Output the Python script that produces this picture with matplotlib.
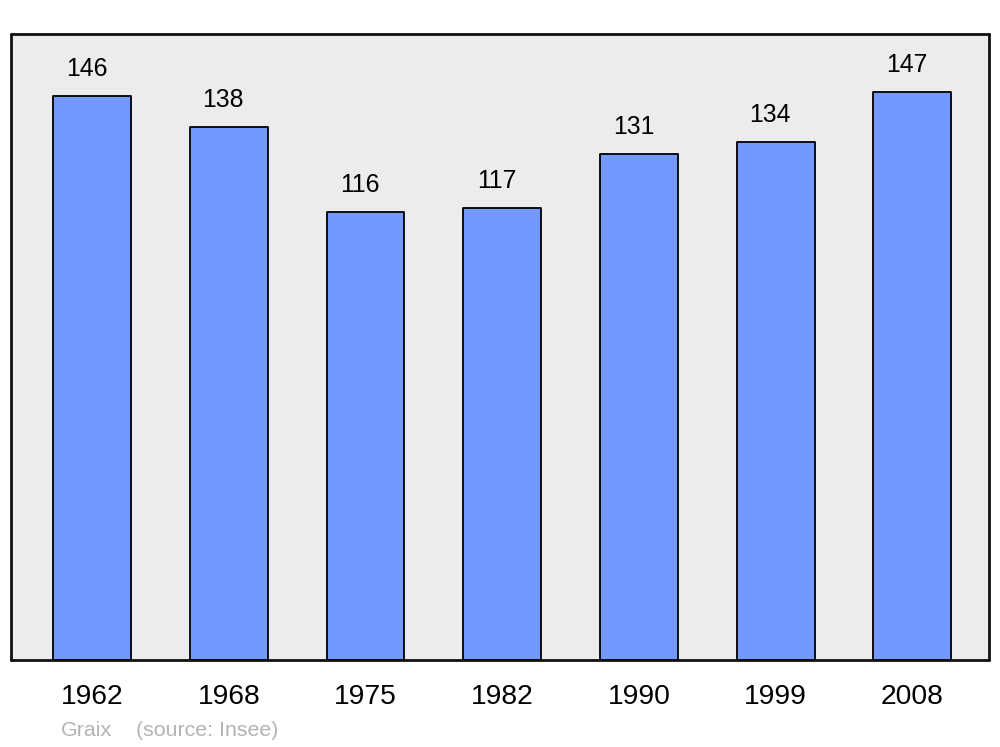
import matplotlib.pyplot as plt

years = ['1962', '1968', '1975', '1982', '1990', '1999', '2008']
population = [146, 138, 116, 117, 131, 134, 147]

BAR_COLOR = '#7399ff'
BG_COLOR = '#ececec'

plt.rcParams['font.family'] = ['Liberation Sans', 'DejaVu Sans']

fig = plt.figure(figsize=(10, 7.47), dpi=100)
ax = fig.add_axes([0.011, 87 / 747, 0.978, 626 / 747])
ax.set_facecolor(BG_COLOR)

x = range(len(years))
rects = ax.bar(x, population, width=0.57, color=BAR_COLOR,
               edgecolor='black', linewidth=1.3, joinstyle='round', zorder=2)

for rect, val in zip(rects, population):
    ax.annotate(str(val), (rect.get_x() + rect.get_width() / 2, rect.get_height()),
                xytext=(-4, 19.5), textcoords='offset points',
                ha='center', va='center', fontsize=17.8)

ax.set_xlim(-0.593, 6.56)
ax.set_ylim(0, 162)
ax.set_xticks(list(x))
ax.set_xticklabels(years, fontsize=20.3)
ax.tick_params(axis='x', length=0, pad=17.5)
ax.set_yticks([])

for spine in ax.spines.values():
    spine.set_linewidth(2)
    spine.set_color('#111111')
    spine.set_capstyle('round')

fig.text(0.061, 1 - 730 / 747, 'Graix', color='#b3b3b3', fontsize=15.4,
         ha='left', va='center')
fig.text(0.136, 1 - 730 / 747, '(source: Insee)', color='#b3b3b3', fontsize=15.4,
         ha='left', va='center')

fig.savefig('out.png', dpi=100)
